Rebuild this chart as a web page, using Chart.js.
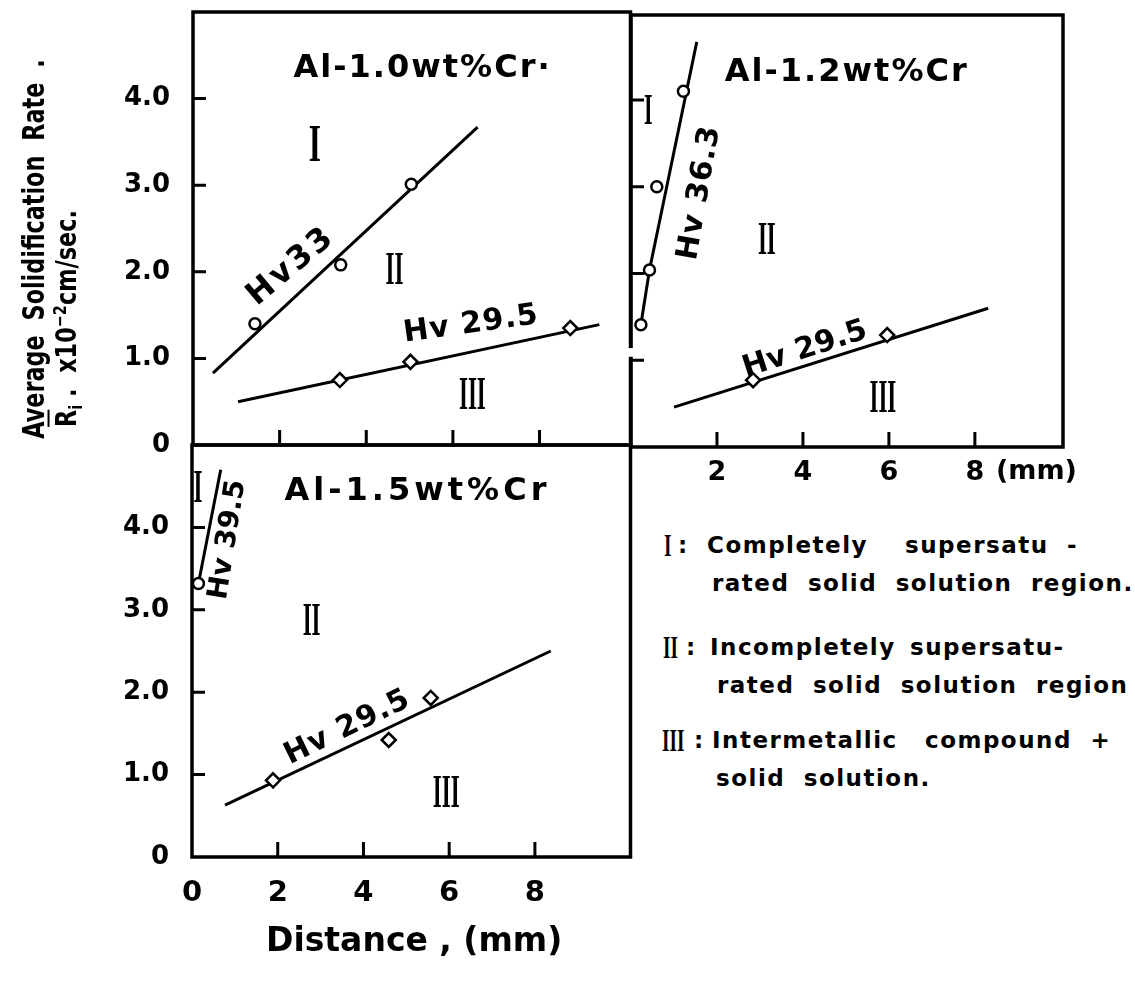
<!DOCTYPE html>
<html>
<head>
<meta charset="utf-8">
<script src="https://cdn.jsdelivr.net/npm/chart.js@4.4.1/dist/chart.umd.min.js"></script>
<style>
body { margin: 0; width: 1135px; height: 981px; background: #fff; position: relative; overflow: hidden; font-family: "DejaVu Sans", sans-serif; color: #000; }
canvas { position: absolute; }
#p10 { left: 0; top: 0; }
#p12 { left: 620px; top: 0; }
#p15 { left: 0; top: 430px; }
.t { position: absolute; white-space: nowrap; font-weight: bold; }
.rot { transform-origin: center center; text-align: center; }
.rn { font-family: "Liberation Serif", serif; font-weight: bold; font-size: 32px; line-height: 28px; transform: scaleX(0.6); transform-origin: left center; }
.leg { font-size: 23px; line-height: 28px; word-spacing: 9px; letter-spacing: 1.5px; }
</style>
</head>
<body>
<canvas id="p10" width="640" height="470"></canvas>
<canvas id="p12" width="515" height="500"></canvas>
<canvas id="p15" width="640" height="490"></canvas>

<div class="t rot" style="left:-267px;top:231px;width:600px;font-size:31px;line-height:36px;transform:rotate(-90deg) scaleX(0.72);word-spacing:10px;">Average Solidification Rate .</div>
<div class="t rot" style="left:-132px;top:292px;width:400px;font-size:28px;line-height:36px;transform:rotate(-90deg) scaleX(0.8);"><span style="text-decoration:overline">R</span><sub style="font-size:18px">i</sub> .&nbsp; x10<sup style="font-size:18px">−2</sup>cm/sec.</div>

<div class="t" style="left:996px;top:453px;font-size:27px;line-height:34px;">(mm)</div>
<div class="t" style="left:266px;top:919px;font-size:33px;line-height:42px;">Distance , (mm)</div>

<div class="t rn" style="left:664px;top:531px;">I</div>
<div class="t leg" style="left:678px;top:531px;">:</div>
<div class="t leg" style="left:707px;top:531px;">Completely</div>
<div class="t leg" style="left:905px;top:531px;">supersatu -</div>
<div class="t leg" style="left:712px;top:569px;">rated solid solution region.</div>
<div class="t rn" style="left:663px;top:633px;">II</div>
<div class="t leg" style="left:686px;top:633px;">:</div>
<div class="t leg" style="left:710px;top:633px;">Incompletely</div>
<div class="t leg" style="left:910px;top:633px;">supersatu-</div>
<div class="t leg" style="left:717px;top:671px;">rated solid solution region</div>
<div class="t rn" style="left:662px;top:726px;">III</div>
<div class="t leg" style="left:694px;top:726px;">:</div>
<div class="t leg" style="left:712px;top:726px;">Intermetallic</div>
<div class="t leg" style="left:925px;top:726px;">compound +</div>
<div class="t leg" style="left:716px;top:764px;">solid solution.</div>

<script>
// tick labels
const yTickLabels = ['0', '1.0', '2.0', '3.0', '4.0'];
const xTickLabelsTop = ['2', '4', '6', '8'];
const xTickLabelsBottom = ['0', '2', '4', '6', '8'];

// Al-1.0wt%Cr
const a10Hv33X = [1.43, 3.41, 5.04];
const a10Hv33Y = [1.40, 2.08, 3.01];
const a10Hv33FitX = [0.46, 6.57];
const a10Hv33FitY = [0.83, 3.67];
const a10Hv295X = [3.39, 5.02, 8.71];
const a10Hv295Y = [0.75, 0.96, 1.35];
const a10Hv295FitX = [1.04, 9.38];
const a10Hv295FitY = [0.50, 1.39];

// Al-1.2wt%Cr
const a12Hv363X = [0.23, 0.43, 0.60, 1.22];
const a12Hv363Y = [1.41, 2.04, 3.00, 4.10];
const a12Hv363FitX = [0.23, 0.43, 1.53];
const a12Hv363FitY = [1.41, 2.04, 4.67];
const a12Hv295X = [2.84, 5.96];
const a12Hv295Y = [0.77, 1.29];
const a12Hv295FitX = [1.00, 8.31];
const a12Hv295FitY = [0.46, 1.60];

// Al-1.5wt%Cr
const a15Hv395X = [0.15];
const a15Hv395Y = [3.32];
const a15Hv395FitX = [0.15, 0.67];
const a15Hv395FitY = [3.32, 4.70];
const a15Hv295X = [1.89, 4.59, 5.57];
const a15Hv295Y = [0.93, 1.42, 1.93];
const a15Hv295FitX = [0.77, 8.37];
const a15Hv295FitY = [0.63, 2.50];

function pts(xs, ys) {
    return xs.map((x, i) => ({ x: x, y: ys[i] }));
}

function fit(xs, ys) {
    return { data: pts(xs, ys), showLine: true, borderColor: '#000', borderWidth: 3, pointRadius: 0, order: 2 };
}

function marks(xs, ys, style) {
    return {
        data: pts(xs, ys), showLine: false, pointStyle: style,
        pointRadius: style === 'circle' ? 5.5 : 7, borderWidth: 2.5,
        pointBackgroundColor: '#fff', pointBorderColor: '#000', order: 1
    };
}

// fixed axis box sizes, no extra label padding
function fixBox(s, w, h) {
    if (w !== undefined) s.width = w;
    if (h !== undefined) s.height = h;
    s.paddingTop = 0;
    s.paddingBottom = 0;
    s.paddingLeft = 0;
    s.paddingRight = 0;
}

// frame, inward ticks, axis break and in-plot notes
const framePlugin = {
    id: 'frame',
    afterDraw(chart, args, opts) {
        const ctx = chart.ctx;
        const a = chart.chartArea;
        const xs = chart.scales.x;
        const ys = chart.scales.y;
        ctx.save();
        ctx.strokeStyle = '#000';
        ctx.lineWidth = 3.5;
        ctx.strokeRect(a.left, a.top, a.right - a.left, a.bottom - a.top);
        ctx.lineWidth = 3;
        ctx.beginPath();
        (opts.xTicks || []).forEach(v => {
            const px = xs.getPixelForValue(v);
            ctx.moveTo(px, a.bottom);
            ctx.lineTo(px, a.bottom - 15);
        });
        (opts.yTicks || []).forEach(v => {
            const py = ys.getPixelForValue(v);
            ctx.moveTo(a.left, py);
            ctx.lineTo(a.left + 13, py);
        });
        ctx.stroke();
        if (opts.gap) {
            const y1 = ys.getPixelForValue(opts.gap[1]);
            const y0 = ys.getPixelForValue(opts.gap[0]);
            ctx.fillStyle = '#fff';
            ctx.fillRect(a.left - 4, y1, 8, y0 - y1);
        }
        ctx.fillStyle = '#000';
        ctx.textAlign = 'center';
        ctx.textBaseline = 'middle';
        (opts.notes || []).forEach(n => {
            ctx.save();
            ctx.translate(xs.getPixelForValue(n.x), ys.getPixelForValue(n.y));
            ctx.rotate((n.rot || 0) * Math.PI / 180);
            ctx.scale(n.sx || 1, 1);
            ctx.font = n.font;
            ctx.letterSpacing = (n.ls || 0) + 'px';
            ctx.fillText(n.t, 0, 0);
            ctx.restore();
        });
        ctx.restore();
    }
};

const titleFont = 'bold 32px "DejaVu Sans"';
const hvFont = 'bold 30px "DejaVu Sans"';
const romanFont = 'bold 46px "Liberation Serif"';

function panel(id, o) {
    return new Chart(document.getElementById(id), {
        type: 'scatter',
        data: { datasets: o.datasets },
        options: {
            responsive: false,
            animation: false,
            layout: { padding: o.pad },
            plugins: {
                legend: { display: false },
                tooltip: { enabled: false },
                frame: { xTicks: [2, 4, 6, 8], yTicks: [1, 2, 3, 4], gap: o.gap, notes: o.notes }
            },
            scales: {
                x: {
                    type: 'linear', min: 0, max: o.xMax,
                    grid: { display: false }, border: { display: false },
                    afterFit: s => fixBox(s, undefined, o.xH),
                    ticks: {
                        display: o.xLabels.length > 0, stepSize: 2, autoSkip: false, maxRotation: 0,
                        padding: o.xPad, color: '#000', font: { family: 'DejaVu Sans', weight: 'bold', size: o.xFont },
                        callback: v => o.xLabels.includes(String(v)) ? String(v) : ''
                    }
                },
                y: {
                    type: 'linear', min: 0, max: o.yMax,
                    grid: { display: false }, border: { display: false },
                    afterFit: s => fixBox(s, o.yW, undefined),
                    ticks: {
                        display: o.yLabels, stepSize: 1, autoSkip: false,
                        padding: 15, color: '#000', font: { family: 'DejaVu Sans', weight: 'bold', size: 26 },
                        callback: v => yTickLabels[v] !== undefined && Number.isInteger(v) ? yTickLabels[v] : ''
                    }
                }
            }
        },
        plugins: [framePlugin]
    });
}

panel('p10', {
    pad: { top: 12, right: 8, left: 0, bottom: 0 }, xH: 25, yW: 193, xMax: 10.1, yMax: 5.0,
    xLabels: [], xPad: 8, xFont: 27, yLabels: true,
    datasets: [
        marks(a10Hv33X, a10Hv33Y, 'circle'), fit(a10Hv33FitX, a10Hv33FitY),
        marks(a10Hv295X, a10Hv295Y, 'rectRot'), fit(a10Hv295FitX, a10Hv295FitY)
    ],
    notes: [
        { t: 'Al-1.0wt%Cr·', x: 5.3, y: 4.35, font: titleFont, ls: 2 },
        { t: 'I', x: 2.81, y: 3.43, font: 'bold 52px "Liberation Serif"', sx: 0.6 },
        { t: 'II', x: 4.65, y: 2.0, font: romanFont, sx: 0.5 },
        { t: 'III', x: 6.45, y: 0.55, font: romanFont, sx: 0.5 },
        { t: 'Hv33', x: 2.27, y: 2.06, rot: -40, font: 'bold 32px "DejaVu Sans"', ls: 3 },
        { t: 'Hv 29.5', x: 6.42, y: 1.39, rot: -8, font: hvFont, ls: 1 }
    ]
});

panel('p12', {
    pad: { top: 15, right: 72, left: 0, bottom: 0 }, xH: 53, yW: 11, xMax: 10.05, yMax: 4.98,
    xLabels: xTickLabelsTop, xPad: 2, xFont: 27, yLabels: false, gap: [1.04, 1.14],
    datasets: [
        marks(a12Hv363X, a12Hv363Y, 'circle'), fit(a12Hv363FitX, a12Hv363FitY),
        marks(a12Hv295X, a12Hv295Y, 'rectRot'), fit(a12Hv295FitX, a12Hv295FitY)
    ],
    notes: [
        { t: 'Al-1.2wt%Cr', x: 5.02, y: 4.31, font: titleFont, ls: 2 },
        { t: 'I', x: 0.4, y: 3.86, font: 'bold 44px "Liberation Serif"', sx: 0.5 },
        { t: 'II', x: 3.16, y: 2.36, font: romanFont, sx: 0.5 },
        { t: 'III', x: 5.86, y: 0.54, font: romanFont, sx: 0.5 },
        { t: 'Hv 36.3', x: 1.6, y: 2.93, rot: -80, font: hvFont, ls: 1 },
        { t: 'Hv 29.5', x: 4.05, y: 1.12, rot: -18, font: hvFont, ls: 0 }
    ]
});

panel('p15', {
    pad: { top: 15, right: 8, left: 0, bottom: 0 }, xH: 63, yW: 192, xMax: 10.23, yMax: 5.0,
    xLabels: xTickLabelsBottom, xPad: 11, xFont: 29, yLabels: true,
    datasets: [
        marks(a15Hv395X, a15Hv395Y, 'circle'), fit(a15Hv395FitX, a15Hv395FitY),
        marks(a15Hv295X, a15Hv295Y, 'rectRot'), fit(a15Hv295FitX, a15Hv295FitY)
    ],
    notes: [
        { t: 'Al-1.5wt%Cr', x: 5.26, y: 4.43, font: titleFont, ls: 4 },
        { t: 'I', x: 0.14, y: 4.45, font: romanFont, sx: 0.5 },
        { t: 'II', x: 2.79, y: 2.84, font: romanFont, sx: 0.5 },
        { t: 'III', x: 5.93, y: 0.75, font: romanFont, sx: 0.5 },
        { t: 'Hv 39.5', x: 0.84, y: 3.85, rot: -81, font: 'bold 28px "DejaVu Sans"', ls: 0 },
        { t: 'Hv 29.5', x: 3.63, y: 1.57, rot: -26, font: hvFont, ls: 1 }
    ]
});
</script>
</body>
</html>
